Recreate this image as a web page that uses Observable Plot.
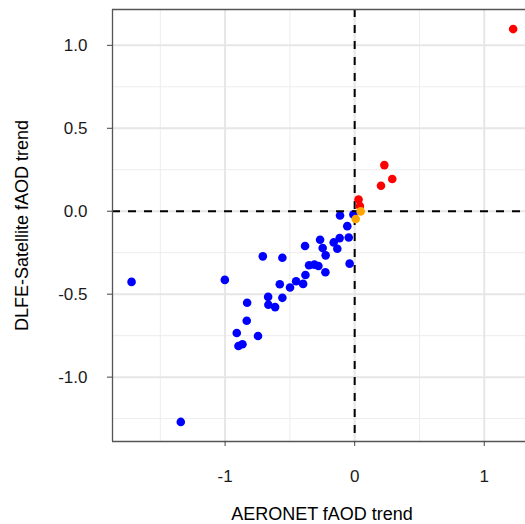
<!DOCTYPE html>
<html><head><meta charset="utf-8">
<script src="https://cdn.jsdelivr.net/npm/d3@7"></script>
<script src="https://cdn.jsdelivr.net/npm/@observablehq/plot@0.6"></script>
<style>
body{margin:0;background:#fff;overflow:hidden}
</style>
</head><body><div id="chart"></div>
<script>
// Data
const blueAeronet = [-1.722, -1.342, -1.002, -0.709, -0.558, -0.383, -0.267, -0.247, -0.224, -0.162, -0.116, -0.134, -0.113, -0.057, -0.046, -0.039, -0.352, -0.311, -0.280, -0.226, -0.380, -0.452, -0.398, -0.499, -0.578, -0.558, -0.668, -0.666, -0.614, -0.830, -0.833, -0.910, -0.746, -0.897, -0.866, -0.010];
const blueDlfe    = [-0.426, -1.270, -0.414, -0.272, -0.280, -0.210, -0.172, -0.222, -0.266, -0.188, -0.162, -0.226, -0.026, -0.090, -0.158, -0.316, -0.326, -0.322, -0.330, -0.368, -0.384, -0.422, -0.438, -0.460, -0.440, -0.522, -0.516, -0.564, -0.578, -0.552, -0.660, -0.734, -0.752, -0.812, -0.802, -0.020];
const redAeronet = [1.223, 0.229, 0.290, 0.203, 0.030, 0.040];
const redDlfe    = [1.098, 0.278, 0.194, 0.154, 0.071, 0.031];
const orangeAeronet = [0.046, 0.008];
const orangeDlfe    = [-0.001, -0.047];

const xMajor = [-1, 0, 1];
const xMinor = [-1.5, -0.5, 0.5];
const yMajor = [-1, -0.5, 0, 0.5, 1];
const yMinor = [-1.25, -0.75, -0.25, 0.25, 0.75];
const xDomain = [-1.869, 1.370];
const yDomain = [-1.388, 1.216];
const xTitle = "AERONET fAOD trend";
const yTitle = "DLFE-Satellite fAOD trend";

const toRows = (xs, ys) => xs.map((x, i) => ({x, y: ys[i]}));
const blue = toRows(blueAeronet, blueDlfe);
const red = toRows(redAeronet, redDlfe);
const orange = toRows(orangeAeronet, orangeDlfe);

const W = 525, H = 524, mL = 112, mT = 9, mB = 83;
const font = "'Liberation Sans', Arial, Helvetica, sans-serif";

const plot = Plot.plot({
  width: W, height: H,
  marginLeft: mL, marginRight: 0, marginTop: mT, marginBottom: mB,
  style: {fontFamily: font, background: "white", overflow: "hidden"},
  x: {domain: xDomain, range: [mL, 531.7]},
  y: {domain: yDomain},
  marks: [
    Plot.ruleX(xMinor, {stroke: "#ededed", strokeWidth: 1}),
    Plot.ruleY(yMinor, {stroke: "#ededed", strokeWidth: 1}),
    Plot.ruleX(xMajor, {stroke: "#e6e6e6", strokeWidth: 2}),
    Plot.ruleY(yMajor, {stroke: "#e6e6e6", strokeWidth: 2}),
    Plot.dot(blue, {x: "x", y: "y", r: 4.3, fill: "#0000ff", stroke: "none"}),
    Plot.ruleY([0], {stroke: "#000", strokeWidth: 2, strokeDasharray: "8,8"}),
    Plot.ruleX([0], {stroke: "#000", strokeWidth: 2, strokeDasharray: "8,8"}),
    Plot.dot(red, {x: "x", y: "y", r: 4.3, fill: "#ff0000", stroke: "none"}),
    Plot.dot(orange, {x: "x", y: "y", r: 4.3, fill: "#ffa500", stroke: "none"}),
    Plot.ruleX([xDomain[0]], {stroke: "#555", strokeWidth: 1.3}),
    Plot.ruleY(yDomain, {stroke: "#555", strokeWidth: 1.3}),
    Plot.axisX({ticks: xMajor, tickSize: 5, tickPadding: 23, tickFormat: d => String(d),
      fontSize: 17, stroke: "#444", fill: "#1a1a1a", label: null}),
    Plot.axisY({ticks: yMajor, tickSize: 5, tickPadding: 20, tickFormat: d => d.toFixed(1),
      fontSize: 17, stroke: "#444", fill: "#1a1a1a", label: null}),
    Plot.text([xTitle], {text: d => d, frameAnchor: "bottom", dx: 3, dy: 73,
      fontSize: 18, lineAnchor: "middle", textAnchor: "middle", fill: "#000"}),
    Plot.text([yTitle], {text: d => d, frameAnchor: "left", dx: -90, rotate: -90,
      fontSize: 18, lineAnchor: "middle", textAnchor: "middle", fill: "#000"})
  ]
});
document.getElementById("chart").appendChild(plot);
</script>
</body></html>
